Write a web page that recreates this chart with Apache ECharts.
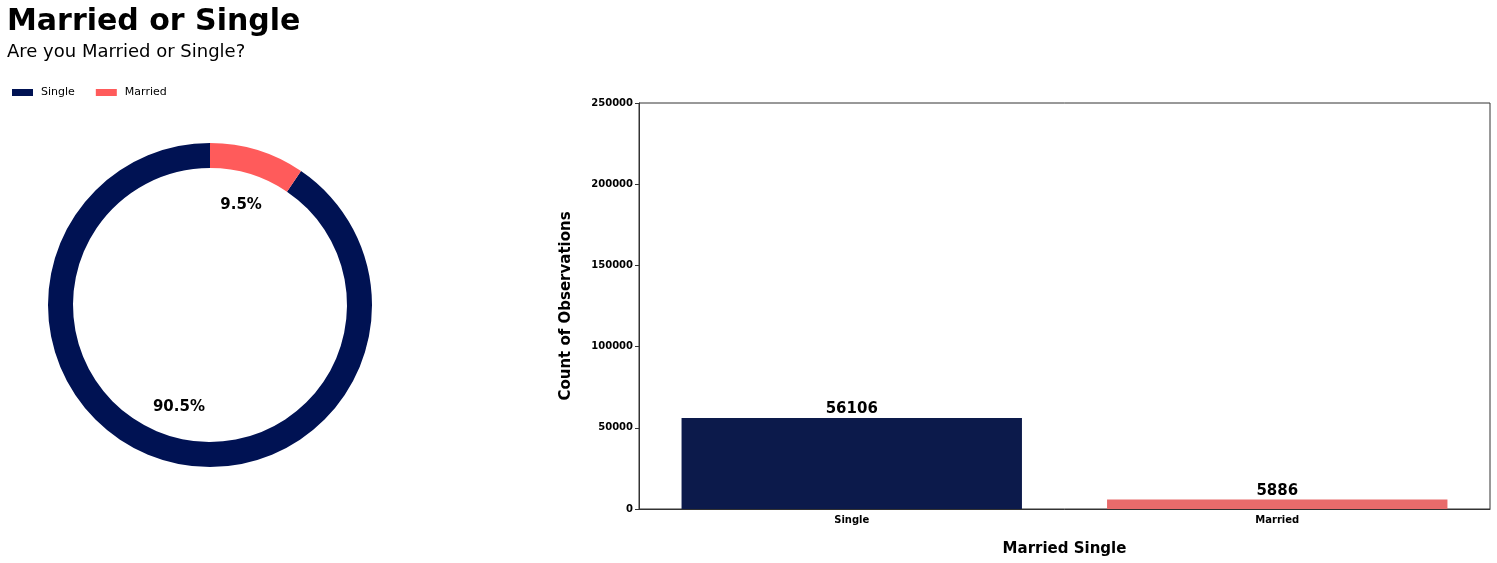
<!DOCTYPE html>
<html>
<head>
<meta charset="utf-8">
<script src="https://cdn.jsdelivr.net/npm/echarts@6/dist/echarts.min.js"></script>
<style>
html,body{margin:0;padding:0;background:#fff;}
#c{width:1497px;height:563px;}
</style>
</head>
<body>
<div id="c"></div>
<script>
const categories = ['Single', 'Married'];
const counts = [56106, 5886];
const pieColors = ['#001253', '#FF5B5B'];
const barColors = ['#0C1A4B', '#E86B6B'];
const yTicks = [0, 50000, 100000, 150000, 200000, 250000];

const total = counts.reduce((a, b) => a + b, 0);
const pieData = categories.map((c, i) => ({ name: c, value: counts[i], itemStyle: { color: pieColors[i] } }));
const F = 'DejaVu Sans';

const chart = echarts.init(document.getElementById('c'), null, { renderer: 'canvas' });
chart.setOption({
  animation: false,
  backgroundColor: '#fff',
  textStyle: { fontFamily: F, color: '#000' },
  title: {
    text: 'Married or Single',
    subtext: 'Are you Married or Single?',
    left: 2,
    top: 2,
    itemGap: 6,
    textStyle: { fontFamily: F, fontSize: 30, fontWeight: 'bold', color: '#000' },
    subtextStyle: { fontFamily: F, fontSize: 18, color: '#000' }
  },
  legend: {
    data: categories,
    left: 12,
    top: 87,
    padding: 0,
    icon: 'rect',
    itemWidth: 21,
    itemHeight: 7,
    itemGap: 21,
    selectedMode: false,
    textStyle: { fontFamily: F, fontSize: 11, color: '#000', padding: [0, 0, 0, 3] }
  },
  grid: {
    left: 639,
    top: 103,
    width: 851,
    height: 406,
    outerBoundsMode: 'none',
    containLabel: false,
    show: true,
    borderColor: '#333',
    borderWidth: 1,
    backgroundColor: 'transparent'
  },
  xAxis: {
    type: 'category',
    data: categories,
    name: 'Married Single',
    nameLocation: 'middle',
    nameGap: 33,
    nameTextStyle: { fontFamily: F, fontSize: 15, fontWeight: 'bold', color: '#000' },
    axisLine: { lineStyle: { color: '#333', width: 1 } },
    axisTick: { alignWithLabel: true, length: 4, lineStyle: { color: '#333' } },
    axisLabel: { fontFamily: F, fontSize: 10, fontWeight: 'bold', color: '#000', margin: 6 }
  },
  yAxis: {
    type: 'value',
    min: 0,
    max: 250000,
    interval: 50000,
    name: 'Count of Observations',
    nameLocation: 'middle',
    nameGap: 65,
    nameTextStyle: { fontFamily: F, fontSize: 15, fontWeight: 'bold', color: '#000' },
    axisLine: { show: true, lineStyle: { color: '#333', width: 1 } },
    axisTick: { show: true, length: 4, lineStyle: { color: '#333' } },
    splitLine: { show: false },
    axisLabel: {
      fontFamily: F, fontSize: 10, fontWeight: 'bold', color: '#000', margin: 6,
      formatter: v => yTicks.includes(v) ? String(v) : ''
    }
  },
  series: [
    {
      type: 'pie',
      center: [210, 305],
      radius: [137, 162],
      startAngle: 90,
      clockwise: false,
      silent: true,
      label: { show: false },
      labelLine: { show: false },
      emphasis: { disabled: true },
      data: pieData
    },
    {
      type: 'pie',
      center: [210, 306],
      radius: [97.7, 107.7],
      startAngle: 90,
      clockwise: false,
      silent: true,
      itemStyle: { color: 'rgba(0,0,0,0)' },
      emphasis: { disabled: true },
      label: {
        show: true,
        position: 'inside',
        fontFamily: F,
        fontSize: 15,
        fontWeight: 'bold',
        color: '#000',
        formatter: p => (p.value / total * 100).toFixed(1) + '%'
      },
      labelLine: { show: false },
      data: categories.map((c, i) => ({ name: c, value: counts[i], itemStyle: { color: 'rgba(0,0,0,0)' } }))
    },
    {
      type: 'bar',
      barWidth: '80%',
      silent: true,
      data: counts.map((v, i) => ({ value: v, itemStyle: { color: barColors[i] } })),
      label: {
        show: true,
        position: 'top',
        distance: 1,
        fontFamily: F,
        fontSize: 15,
        fontWeight: 'bold',
        color: '#000'
      }
    }
  ]
});
</script>
</body>
</html>
